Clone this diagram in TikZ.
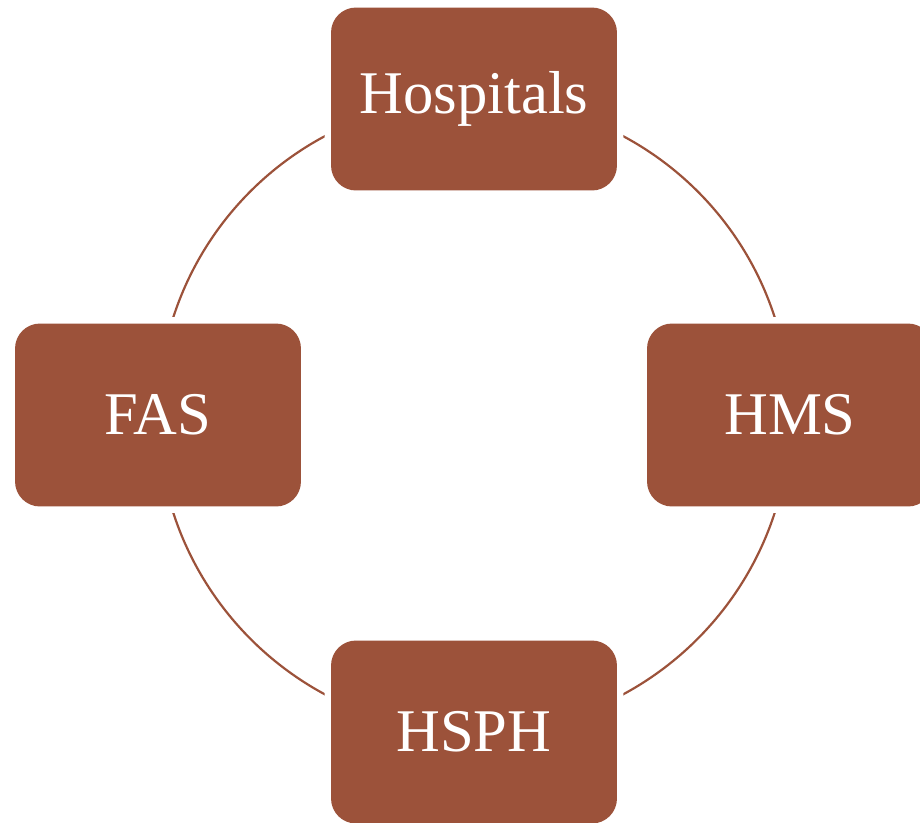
\documentclass[tikz,border=0pt]{standalone}
\usepackage{fontspec}
\setmainfont{Liberation Serif}
\usepackage{tikz}
\usetikzlibrary{positioning,backgrounds}
\pgfdeclarelayer{bg}
\pgfsetlayers{bg,main}
\definecolor{brick}{RGB}{156,82,58}

\begin{document}
\begin{tikzpicture}[x=0.02cm,y=-0.02cm,
    unit/.style={fill=brick,text=white,rounded corners=0.5cm,
      minimum width=5.72cm,minimum height=3.66cm,
      font=\fontsize{34.5}{40}\selectfont,
      preaction={draw=white,line width=0.26cm}},
    ring/.style={draw=brick,line width=1.25pt}]
      \useasboundingbox (0,0) rectangle (920,822);
      \clip (0,0) rectangle (920,822);

      \node[unit] (Hosp) at (474,99) {Hospitals};
      \node[unit] (FAS) at (158,415) {FAS};
      \node[unit] (HMS) at (790,415) {HMS};
      \node[unit] (HSPH) at (474,732) {HSPH};

      \begin{pgfonlayer}{bg}
      \draw[ring] (Hosp.center) to[bend right=45] (FAS.center);
      \draw[ring] (FAS.center) to[bend right=45] (HSPH.center);
      \draw[ring] (HSPH.center) to[bend right=45] (HMS.center);
      \draw[ring] (HMS.center) to[bend right=45] (Hosp.center);
      \end{pgfonlayer}
    \end{tikzpicture}
\end{document}
